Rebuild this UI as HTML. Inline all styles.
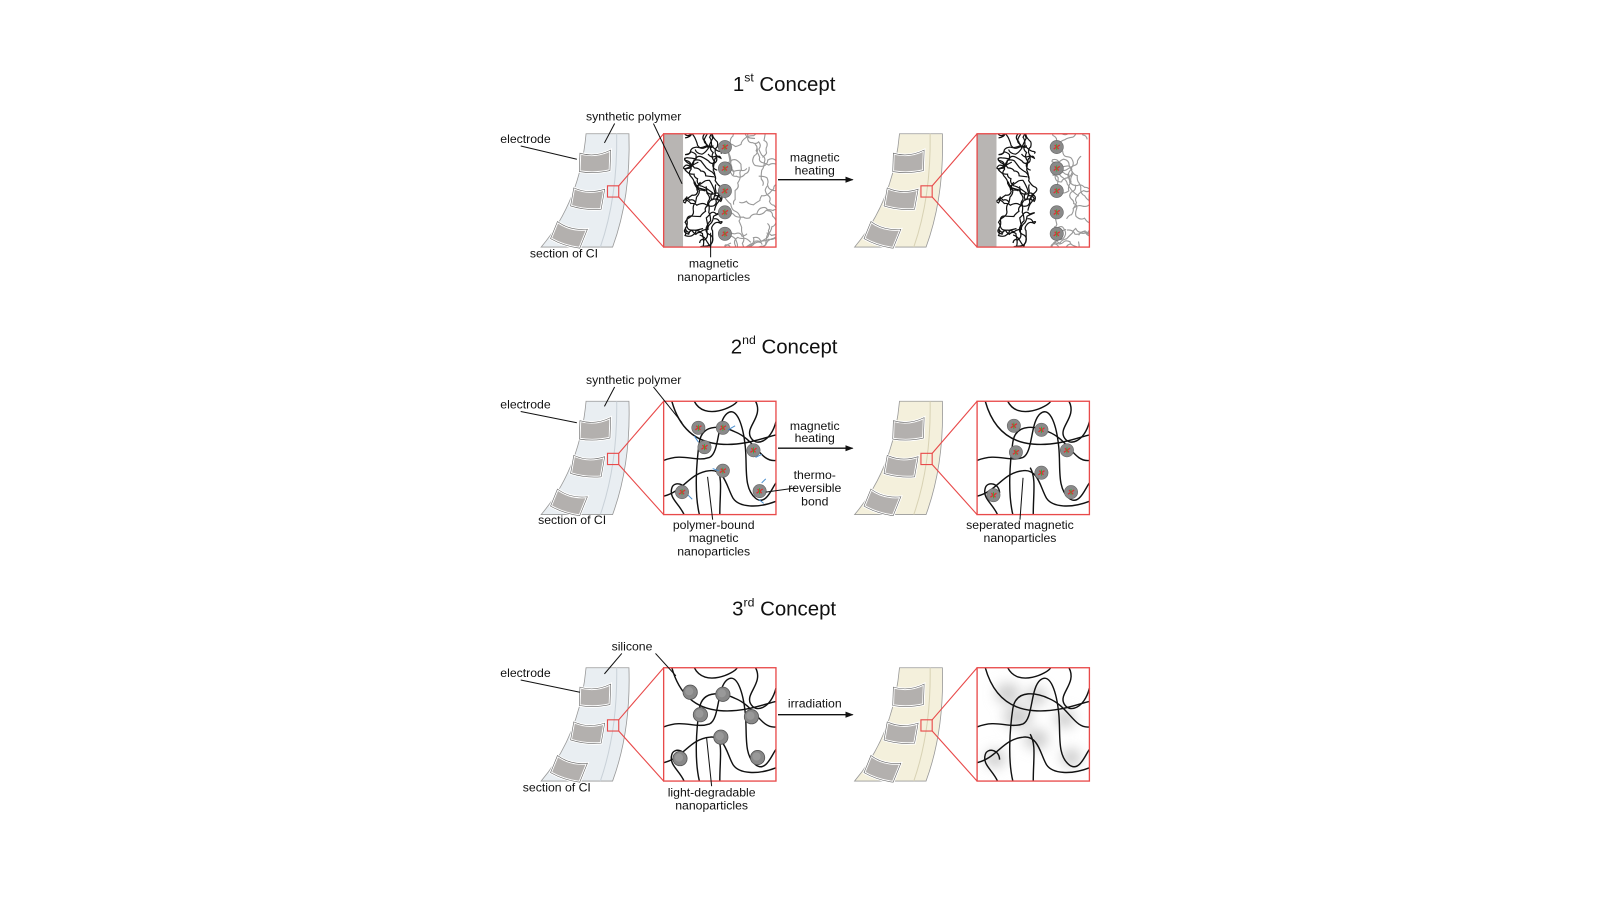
<!DOCTYPE html>
<html><head><meta charset="utf-8"><style>
html,body{margin:0;padding:0;background:#fff}
svg{display:block}
text{font-family:"Liberation Sans",Arial,sans-serif;fill:#111}
</style></head><body>
<svg width="1600" height="900" viewBox="0 0 1600 900" xmlns="http://www.w3.org/2000/svg">
<defs>
<clipPath id="bc"><rect x="0" y="0" width="110" height="111"/></clipPath>
<filter id="blur" x="-50%" y="-50%" width="200%" height="200%"><feGaussianBlur stdDeviation="6"/></filter>
<marker id="ar" markerWidth="8" markerHeight="8" refX="7" refY="4" orient="auto" markerUnits="userSpaceOnUse"><path d="M0,1 L8,4 L0,7 Z" fill="#111"/></marker>
<g id="elec">
  <path d="M0,0 Q15,4 30,-4 L30,16 Q15,20 0,18 Z" fill="#b3b0ae" stroke="#fff" stroke-width="2.5"/>
  <path d="M0,0 Q15,4 30,-4 L30,16 Q15,20 0,18 Z" fill="none" stroke="#666" stroke-width="0.6"/>
</g>
<g id="ciBody">
  <use href="#elec" transform="translate(38,19) rotate(2)"/>
  <use href="#elec" transform="translate(32,53) rotate(10)"/>
  <use href="#elec" transform="translate(16,86) rotate(22)"/>
</g>
<g id="ciL">
  <path d="M44,0 L86,0 Q88,62 70,111 L0,111 Q38,66 44,0 Z" fill="#e9eef2" stroke="#999" stroke-width="0.8"/>
  <path d="M74,0 Q75,62 58,111" fill="none" stroke="#c9d1d8" stroke-width="1"/>
  <use href="#ciBody"/>
</g>
<g id="ciR">
  <path d="M44,0 L86,0 Q88,62 70,111 L0,111 Q38,66 44,0 Z" fill="#f4f0dc" stroke="#999" stroke-width="0.8"/>
  <path d="M74,0 Q75,62 58,111" fill="none" stroke="#d8d2b4" stroke-width="1"/>
  <use href="#ciBody"/>
</g>
<g id="mp"><circle r="6.5" fill="#8a8a8a" stroke="#666" stroke-width="0.6"/><path d="M-3,2 L3,-2 M-2,-2 L2,2" stroke="#d33" stroke-width="1.3"/><path d="M0,-3 L0,3" stroke="#3a3" stroke-width="0.8"/></g>
<g id="bp"><circle r="7" fill="#888" stroke="#555" stroke-width="0.8"/><circle r="4" cx="-1" cy="-1" fill="#999"/></g>
<g id="curlB" fill="none" stroke="#111" stroke-width="1.2"></g>
<g id="curlG" fill="none" stroke="#999" stroke-width="1.1"></g>
<g id="curlG2" fill="none" stroke="#999" stroke-width="1.1"></g>
<g id="net" fill="none" stroke="#111" stroke-width="1.4">
  <path d="M8,0 C15,25 30,40 55,42 C80,44 100,35 110,33"/>
  <path d="M0,58 C20,50 30,60 45,55 C55,50 52,20 62,12 C72,4 78,25 80,45 C82,65 78,85 90,95 C100,103 106,85 110,80"/>
  <path d="M0,93 C20,88 25,70 45,68 C60,66 62,85 68,95 C74,104 92,105 110,98"/>
  <path d="M35,111 C30,90 32,60 35,40 C38,20 60,25 70,30 C90,38 95,60 110,58"/>
  <path d="M90,0 C98,15 80,25 85,35 C90,45 105,40 110,20"/>
  <path d="M20,111 C15,100 5,95 8,85 C10,78 22,80 22,90"/>
  <path d="M55,111 C55,90 58,75 52,65"/>
  <path d="M30,0 C40,20 70,5 72,0"/>
</g>
<g id="box1L">
  <rect x="0" y="0" width="110" height="111" fill="#fff"/>
  <g clip-path="url(#bc)"><use href="#curlG"/><use href="#curlB"/></g>
  <rect x="0" y="0" width="19" height="111" fill="#b8b5b3"/>
  <use href="#mp" x="60" y="13"/><use href="#mp" x="60" y="34"/><use href="#mp" x="60" y="56"/><use href="#mp" x="60" y="77"/><use href="#mp" x="60" y="98"/>
  <rect x="0" y="0" width="110" height="111" fill="none" stroke="#e84a4a" stroke-width="1.3"/>
</g>
<g id="box1R">
  <rect x="0" y="0" width="110" height="111" fill="#fff"/>
  <g clip-path="url(#bc)"><use href="#curlG2"/><use href="#curlB"/></g>
  <rect x="0" y="0" width="19" height="111" fill="#b8b5b3"/>
  <use href="#mp" x="78" y="13"/><use href="#mp" x="78" y="34"/><use href="#mp" x="78" y="56"/><use href="#mp" x="78" y="77"/><use href="#mp" x="78" y="98"/>
  <rect x="0" y="0" width="110" height="111" fill="none" stroke="#e84a4a" stroke-width="1.3"/>
</g>
<g id="zoomlines" stroke="#e84a4a" stroke-width="1.1" fill="none">
  <rect x="65" y="51" width="11" height="11"/>
  <path d="M76,51 L120,0 M76,62 L120,111"/>
</g>
</defs>

<g transform="scale(1.021)">
<text x="768" y="89" font-size="20" text-anchor="middle">1<tspan font-size="12" dy="-9">st</tspan><tspan dy="9"> Concept</tspan></text>
<text x="768" y="346" font-size="20" text-anchor="middle">2<tspan font-size="12" dy="-9">nd</tspan><tspan dy="9"> Concept</tspan></text>
<text x="768" y="603" font-size="20" text-anchor="middle">3<tspan font-size="12" dy="-9">rd</tspan><tspan dy="9"> Concept</tspan></text>

<!-- Row 1 -->
<g transform="translate(530,131)"><use href="#ciL"/><use href="#zoomlines"/></g>
<g transform="translate(650,131)"><use href="#box1L"/></g>
<g transform="translate(837,131)"><use href="#ciR"/><use href="#zoomlines"/></g>
<g transform="translate(957,131)"><use href="#box1R"/></g>
<g font-size="12">
<text x="490" y="140">electrode</text>
<text x="574" y="118">synthetic polymer</text>
<text x="519" y="252">section of CI</text>
<text x="699" y="262" text-anchor="middle">magnetic</text>
<text x="699" y="275" text-anchor="middle">nanoparticles</text>
<text x="798" y="158" text-anchor="middle">magnetic</text>
<text x="798" y="171" text-anchor="middle">heating</text>
</g>
<g stroke="#111" stroke-width="1" fill="none">
<path d="M510,143 L565,156"/><path d="M602,121 L592,140"/><path d="M640,121 L668,180"/><path d="M696,252 L696,228"/>
<path d="M762,176 L835,176" marker-end="url(#ar)" stroke-width="1.4"/>
</g>

<!-- Row 2 -->
<g transform="translate(530,393)"><use href="#ciL"/><use href="#zoomlines"/></g>
<g transform="translate(650,393)">
  <rect width="110" height="111" fill="#fff"/><use href="#net"/>
  <use href="#mp" x="34" y="26"/><use href="#mp" x="58" y="26"/><use href="#mp" x="40" y="45"/><use href="#mp" x="88" y="48"/><use href="#mp" x="58" y="68"/><use href="#mp" x="18" y="89"/><use href="#mp" x="94" y="88"/>
  <g stroke="#4a90d0" stroke-width="1"><path d="M30,34 L34,40 M63,28 L70,24 M90,55 L96,52 M54,68 L48,66 M96,80 L100,76 M93,96 L98,100 M24,92 L28,96"/></g>
  <rect width="110" height="111" fill="none" stroke="#e84a4a" stroke-width="1.3"/>
</g>
<g transform="translate(837,393)"><use href="#ciR"/><use href="#zoomlines"/></g>
<g transform="translate(957,393)">
  <rect width="110" height="111" fill="#fff"/><use href="#net"/>
  <use href="#mp" x="36" y="24"/><use href="#mp" x="63" y="28"/><use href="#mp" x="38" y="50"/><use href="#mp" x="88" y="48"/><use href="#mp" x="63" y="70"/><use href="#mp" x="16" y="92"/><use href="#mp" x="92" y="89"/>
  <rect width="110" height="111" fill="none" stroke="#e84a4a" stroke-width="1.3"/>
</g>
<g font-size="12">
<text x="490" y="400">electrode</text>
<text x="574" y="376">synthetic polymer</text>
<text x="527" y="513">section of CI</text>
<text x="699" y="518" text-anchor="middle">polymer-bound</text>
<text x="699" y="531" text-anchor="middle">magnetic</text>
<text x="699" y="544" text-anchor="middle">nanoparticles</text>
<text x="798" y="421" text-anchor="middle">magnetic</text>
<text x="798" y="433" text-anchor="middle">heating</text>
<text x="798" y="469" text-anchor="middle">thermo-</text>
<text x="798" y="482" text-anchor="middle">reversible</text>
<text x="798" y="495" text-anchor="middle">bond</text>
<text x="999" y="518" text-anchor="middle">seperated magnetic</text>
<text x="999" y="531" text-anchor="middle">nanoparticles</text>
</g>
<g stroke="#111" stroke-width="1" fill="none">
<path d="M510,403 L565,414"/><path d="M602,379 L592,398"/><path d="M640,379 L668,414"/><path d="M698,509 L693,467"/><path d="M779,478 L750,482"/>
<path d="M999,509 L1002,468"/>
<path d="M762,439 L835,439" marker-end="url(#ar)" stroke-width="1.4"/>
</g>

<!-- Row 3 -->
<g transform="translate(530,654)"><use href="#ciL"/><use href="#zoomlines"/></g>
<g transform="translate(650,654)">
  <rect width="110" height="111" fill="#fff"/><use href="#net"/>
  <use href="#bp" x="26" y="24"/><use href="#bp" x="58" y="26"/><use href="#bp" x="36" y="46"/><use href="#bp" x="86" y="48"/><use href="#bp" x="56" y="68"/><use href="#bp" x="16" y="89"/><use href="#bp" x="92" y="88"/>
  <rect width="110" height="111" fill="none" stroke="#e84a4a" stroke-width="1.3"/>
</g>
<g transform="translate(837,654)"><use href="#ciR"/><use href="#zoomlines"/></g>
<g transform="translate(957,654)">
  <rect width="110" height="111" fill="#fff"/>
  <g clip-path="url(#bc)" filter="url(#blur)" fill="#cfcfcf">
    <ellipse cx="30" cy="25" rx="12" ry="10"/><ellipse cx="58" cy="28" rx="10" ry="9"/><ellipse cx="40" cy="48" rx="14" ry="11"/><ellipse cx="86" cy="50" rx="10" ry="9"/><ellipse cx="58" cy="70" rx="12" ry="10"/><ellipse cx="18" cy="89" rx="10" ry="9"/><ellipse cx="92" cy="88" rx="10" ry="9"/>
  </g>
  <use href="#net"/>
  <rect width="110" height="111" fill="none" stroke="#e84a4a" stroke-width="1.3"/>
</g>
<g font-size="12">
<text x="490" y="663">electrode</text>
<text x="599" y="637">silicone</text>
<text x="512" y="775">section of CI</text>
<text x="697" y="780" text-anchor="middle">light-degradable</text>
<text x="697" y="793" text-anchor="middle">nanoparticles</text>
<text x="798" y="693" text-anchor="middle">irradiation</text>
</g>
<g stroke="#111" stroke-width="1" fill="none">
<path d="M510,666 L568,678"/><path d="M609,640 L592,660"/><path d="M642,640 L662,662"/><path d="M697,770 L692,722"/>
<path d="M762,700 L835,700" marker-end="url(#ar)" stroke-width="1.4"/>
</g>
</g>
</svg>
<script>
(function(){
  var s=23;function r(){s=(s*16807)%2147483647;return s/2147483647;}
  var NS="http://www.w3.org/2000/svg";
  function squig(g,x0,x1,n,steps){
    for(var i=0;i<n;i++){
      var x=x0+r()*(x1-x0),y=(i+0.5)*111/n;
      var d="M"+x.toFixed(1)+","+y.toFixed(1);
      var a=r()*6.28;
      for(var k=0;k<steps;k++){
        a+=(r()-0.5)*2.2;
        var l=5+r()*4;
        var cx=x+Math.cos(a)*l*0.7, cy=y+Math.sin(a)*l*0.7;
        a+=(r()-0.5)*1.6;
        x=x+Math.cos(a)*l; y=y+Math.sin(a)*l;
        if(x<x0){x=x0;a=0;} if(x>x1){x=x1;a=3.14;}
        if(y<-3){y=-3;a=1.57;} if(y>114){y=114;a=-1.57;}
        d+=" Q"+cx.toFixed(1)+","+cy.toFixed(1)+" "+x.toFixed(1)+","+y.toFixed(1);
      }
      var p=document.createElementNS(NS,"path");p.setAttribute("d",d);g.appendChild(p);
    }
  }
  squig(document.getElementById("curlB"),21,56,14,12);
  squig(document.getElementById("curlG"),60,112,12,12);
  squig(document.getElementById("curlG2"),74,112,10,12);
})();
</script>
</body></html>
